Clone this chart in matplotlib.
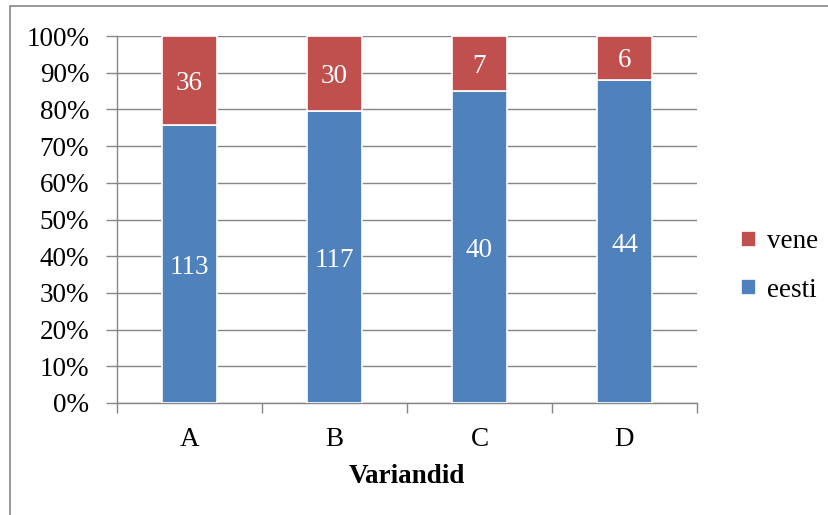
import matplotlib
matplotlib.use("Agg")
import matplotlib.pyplot as plt
from matplotlib.patches import Rectangle
import numpy as np

categories = ["A", "B", "C", "D"]
eesti = [113, 117, 40, 44]
vene = [36, 30, 7, 6]
yticks = [0, 10, 20, 30, 40, 50, 60, 70, 80, 90, 100]

plt.rcParams['font.family'] = ['Liberation Serif', 'DejaVu Serif']

fig = plt.figure(figsize=(8.29, 5.15), dpi=100)
ax = fig.add_axes([117/829, 1-403/515, 580/829, 367/515])

x = np.arange(len(categories))
tot = np.array(eesti) + np.array(vene)
pe = np.array(eesti) / tot * 100
pv = np.array(vene) / tot * 100

blue = "#4F81BD"
red = "#C0504D"
w = 0.386
fs = 19.5
be = ax.bar(x, pe, w, color=blue, edgecolor="white", linewidth=1.2, label="eesti", zorder=3)
bv = ax.bar(x, pv, w, bottom=pe, color=red, edgecolor="white", linewidth=1.2, label="vene", zorder=3)

for i in range(len(categories)):
    ax.text(x[i], pe[i]/2 - 1, str(eesti[i]), ha="center", va="center", color="white", fontsize=fs, zorder=4)
    ax.text(x[i], pe[i] + pv[i]/2 - 0.8, str(vene[i]), ha="center", va="center", color="white", fontsize=fs, zorder=4)

ax.set_xlim(-0.5, len(categories)-0.5)
ax.set_ylim(0, 100)
ax.set_yticks(yticks)
ax.set_yticklabels([f"{v}%" for v in yticks], fontsize=fs)
ax.yaxis.grid(True, color="#868686", linewidth=1.0, zorder=0)
ax.set_xticks(x)
ax.set_xticklabels(categories, fontsize=fs)
ax.set_xticks(np.arange(-0.5, len(categories), 1.0), minor=True)
ax.tick_params(axis="x", which="major", length=0, pad=17)
ax.tick_params(axis="x", which="minor", length=7, color="#868686", width=1.0)
ax.tick_params(axis="y", length=8, color="#868686", width=1.0, pad=12)
for s in ["top", "right"]:
    ax.spines[s].set_visible(False)
for s in ["left", "bottom"]:
    ax.spines[s].set_color("#868686")
    ax.spines[s].set_linewidth(1.0)
ax.set_xlabel("Variandid", fontsize=fs, fontweight="bold", labelpad=9)

handles = [bv, be]
leg = fig.legend(handles, ["vene", "eesti"], loc="center left", bbox_to_anchor=(717/829, 1-266/515),
                 frameon=False, fontsize=fs, handlelength=0.55, handleheight=0.55, handletextpad=0.4,
                 labelspacing=0.85)

fig.patches.append(Rectangle((10/829, -0.1), 1.2, 1-6/515+0.1, transform=fig.transFigure,
                             fill=False, edgecolor="#868686", linewidth=1.2))

fig.savefig("out.png", dpi=100)
